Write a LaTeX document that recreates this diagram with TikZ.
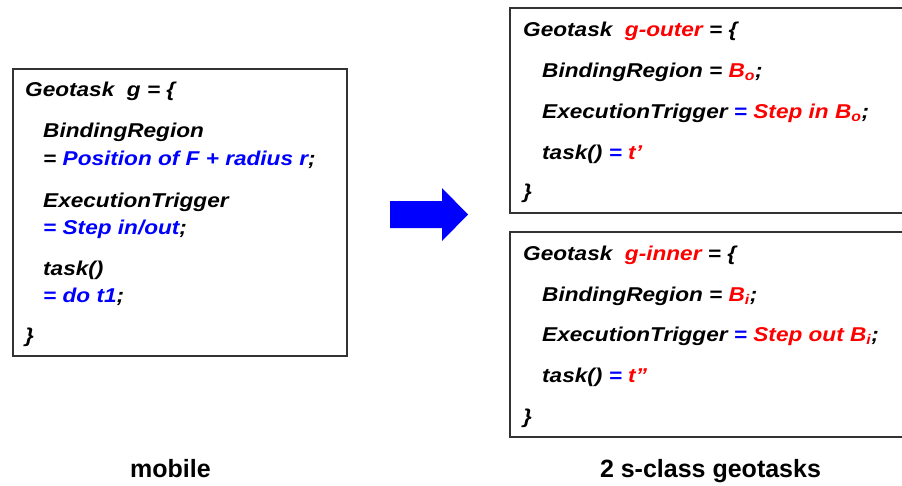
\documentclass[tikz,border=0pt]{standalone}
\usepackage{fontspec}
\setmainfont{Liberation Sans}
\newfontfamily\boxfont[FakeStretch=1.13]{Liberation Sans}
\usepackage{tikz}
\usetikzlibrary{positioning}

\definecolor{taskred}{RGB}{255,0,0}
\definecolor{taskblue}{RGB}{0,0,255}
\newcommand{\rd}[1]{\textcolor{taskred}{#1}}
\newcommand{\bl}[1]{\textcolor{taskblue}{#1}}

\begin{document}
\begin{tikzpicture}[
        x=1pt, y=-1pt,
        geobox/.style={rectangle, draw=black!80, line width=1.1pt, inner sep=0pt},
        code/.style={anchor=base west, inner sep=0pt, font=\boxfont\fontsize{20}{24}\selectfont\bfseries\itshape},
        caption/.style={anchor=base, inner sep=0pt, font=\fontsize{25}{30}\selectfont\bfseries}
    ]
    \useasboundingbox (0,0) rectangle (902,485);
    \clip (0,0) rectangle (902,485);

    % Boxes
    \node[geobox, minimum width=334, minimum height=287] (mobile) at (180,212.5) {};
    \node[geobox, minimum width=400, minimum height=205] (outer) at (710,110.5) {};
    \node[geobox, minimum width=400, minimum height=205] (inner) at (710,334.5) {};

    % Mobile geotask
    \node[code] (m1) at (25,96) {Geotask\ \ g = \{};
    \node[code] (m2) at (43,137) {BindingRegion};
    \node[code] (m3) at (43,165) {= \bl{Position of F + radius r};};
    \node[code] (m4) at (43,207) {ExecutionTrigger};
    \node[code] (m5) at (43,234) {\bl{= Step in/out};};
    \node[code] (m6) at (43,275) {task()};
    \node[code] (m7) at (43,302) {\bl{= do t1};};
    \node[code] (m8) at (25,342) {\}};

    % Outer geotask
    \node[code] (o1) at (523,36) {Geotask\ \ \rd{g-outer} = \{};
    \node[code] (o2) at (542,77) {BindingRegion = \rd{B\textsubscript{o}};};
    \node[code] (o3) at (542,118) {ExecutionTrigger \bl{=} \rd{Step in B\textsubscript{o}};};
    \node[code] (o4) at (542,159) {task() \bl{=} \rd{t’}};
    \node[code] (o5) at (523,198) {\}};

    % Inner geotask
    \node[code] (i1) at (523,260) {Geotask\ \ \rd{g-inner} = \{};
    \node[code] (i2) at (542,301) {BindingRegion = \rd{B\textsubscript{i}};};
    \node[code] (i3) at (542,341) {ExecutionTrigger \bl{=} \rd{Step out B\textsubscript{i}};};
    \node[code] (i4) at (542,382) {task() \bl{=} \rd{t”}};
    \node[code] (i5) at (523,423) {\}};

    % Block arrow
    \fill[taskblue] (390,201) -- (442,201) -- (442,188) -- (468,214.5)
        -- (442,241) -- (442,228) -- (390,228) -- cycle;

    % Captions
    \node[caption] (cap1) at (170.5,477) {mobile};
    \node[caption] (cap2) at (710.5,477) {2 s-class geotasks};

\end{tikzpicture}
\end{document}
